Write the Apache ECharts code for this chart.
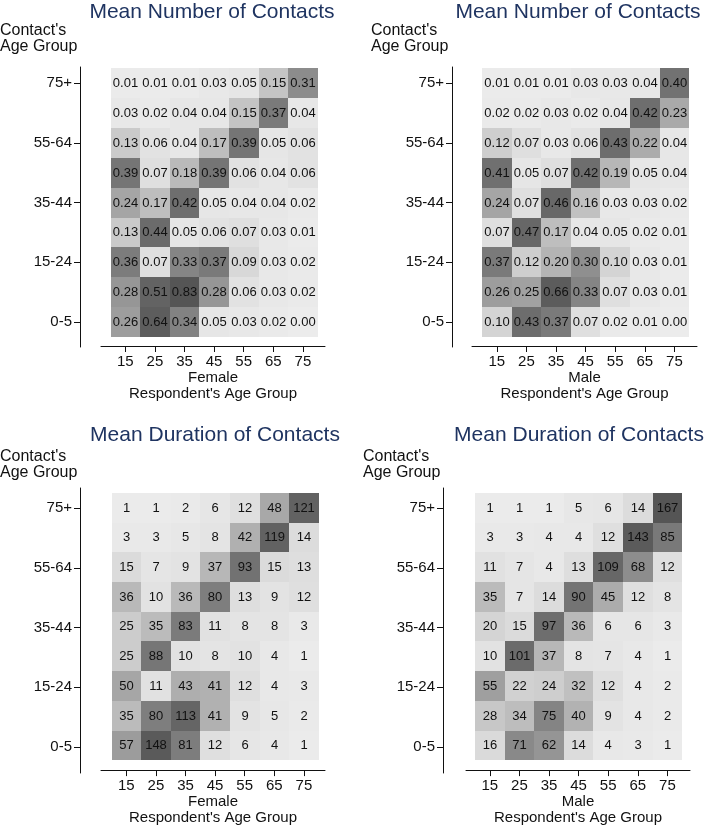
<!DOCTYPE html>
<html><head><meta charset="utf-8">
<script src="https://cdn.jsdelivr.net/npm/echarts@6/dist/echarts.min.js"></script>
<style>html,body{margin:0;padding:0;background:#fff}#c{width:710px;height:827px}</style>
</head><body><div id="c"></div>
<script>
// ---------- data ----------
const respondentAges = [15, 25, 35, 45, 55, 65, 75];
const contactTickRows = [0, 2, 4, 6, 8];
const contactTickLabels = ['0-5', '15-24', '35-44', '55-64', '75+'];
const panelTitles = ['Mean Number of Contacts', 'Mean Number of Contacts', 'Mean Duration of Contacts', 'Mean Duration of Contacts'];
const sexLabels = ['Female', 'Male', 'Female', 'Male'];
const xAxisTitle = "Respondent's Age Group";
const yAxisTitle = "Contact's\nAge Group";

// rows listed from top (75+) to bottom (0-5), columns 15..75
const femaleNumber = [
  [0.01,0.01,0.01,0.03,0.05,0.15,0.31],
  [0.03,0.02,0.04,0.04,0.15,0.37,0.04],
  [0.13,0.06,0.04,0.17,0.39,0.05,0.06],
  [0.39,0.07,0.18,0.39,0.06,0.04,0.06],
  [0.24,0.17,0.42,0.05,0.04,0.04,0.02],
  [0.13,0.44,0.05,0.06,0.07,0.03,0.01],
  [0.36,0.07,0.33,0.37,0.09,0.03,0.02],
  [0.28,0.51,0.83,0.28,0.06,0.03,0.02],
  [0.26,0.64,0.34,0.05,0.03,0.02,0.00]
];
const maleNumber = [
  [0.01,0.01,0.01,0.03,0.03,0.04,0.40],
  [0.02,0.02,0.03,0.02,0.04,0.42,0.23],
  [0.12,0.07,0.03,0.06,0.43,0.22,0.04],
  [0.41,0.05,0.07,0.42,0.19,0.05,0.04],
  [0.24,0.07,0.46,0.16,0.03,0.03,0.02],
  [0.07,0.47,0.17,0.04,0.05,0.02,0.01],
  [0.37,0.12,0.20,0.30,0.10,0.03,0.01],
  [0.26,0.25,0.66,0.33,0.07,0.03,0.01],
  [0.10,0.43,0.37,0.07,0.02,0.01,0.00]
];
const femaleDuration = [
  [1,1,2,6,12,48,121],
  [3,3,5,8,42,119,14],
  [15,7,9,37,93,15,13],
  [36,10,36,80,13,9,12],
  [25,35,83,11,8,8,3],
  [25,88,10,8,10,4,1],
  [50,11,43,41,12,4,3],
  [35,80,113,41,9,5,2],
  [57,148,81,12,6,4,1]
];
const maleDuration = [
  [1,1,1,5,6,14,167],
  [3,3,4,4,12,143,85],
  [11,7,4,13,109,68,12],
  [35,7,14,90,45,12,8],
  [20,15,97,36,6,6,3],
  [10,101,37,8,7,4,1],
  [55,22,24,32,12,4,2],
  [28,34,75,40,9,4,2],
  [16,71,62,14,4,3,1]
];

// ---------- styles / layout ----------
const FONT = '"Liberation Sans", Arial, Helvetica, sans-serif';
const TITLE_COLOR = '#1f3461';
const grayHex = l => { const h = Math.round(l).toString(16).padStart(2, '0'); return '#' + h + h + h; };
const numberGrays = [236,230,212,196,180,161,143,127,114,105,100,97,95,92,90,88,86,84].map(grayHex);
const durationGrays = [236,226,212,196,178,166,152,138,126,116,108,102,98,95,92,89,86,84].map(grayHex);

const colW = 29.6, rowH = 29.9;
const panels = [
  {values: femaleNumber,   dec: 2, yAxisX: 80,  cellsLeft: 110.5, cellsTop: 68,  xLineLeft: 101, xLineRight: 325, xLineY: 346, yLineTop: 67,  yLineBottom: 347, titleX: 212, titleY: 12,  ctxX: 0,   ctxY: 39},
  {values: maleNumber,     dec: 2, yAxisX: 452, cellsLeft: 482,   cellsTop: 68,  xLineLeft: 472, xLineRight: 697, xLineY: 346, yLineTop: 67,  yLineBottom: 347, titleX: 578, titleY: 12,  ctxX: 371, ctxY: 39},
  {values: femaleDuration, dec: 0, yAxisX: 80,  cellsLeft: 111.5, cellsTop: 493, xLineLeft: 101, xLineRight: 325, xLineY: 772, yLineTop: 488, yLineBottom: 773, titleX: 215, titleY: 435, ctxX: 0,   ctxY: 465},
  {values: maleDuration,   dec: 0, yAxisX: 443, cellsLeft: 475,   cellsTop: 493, xLineLeft: 466, xLineRight: 690, xLineY: 772, yLineTop: 488, yLineBottom: 773, titleX: 579, titleY: 435, ctxX: 363, ctxY: 465}
];

const grid = [], xAxis = [], yAxis = [], series = [], graphic = [];
const axisLineStyle = {show: true, onZero: false, lineStyle: {color: '#111', width: 1}};

panels.forEach((p, i) => {
  const pxPerUnit = colW / 10;
  const gA = 2 * i, gB = 2 * i + 1;
  const wA = p.xLineRight - p.xLineLeft, hA = p.xLineY - p.cellsTop;
  const xmin = 10 - (p.cellsLeft - p.xLineLeft) / pxPerUnit;
  grid.push({left: p.xLineLeft, top: p.cellsTop, width: wA, height: hA});
  xAxis.push({
    gridIndex: gA, type: 'value', min: xmin, max: xmin + wA / pxPerUnit,
    axisLine: axisLineStyle,
    axisTick: {show: true, inside: false, length: 6, customValues: respondentAges, lineStyle: {color: '#111'}},
    axisLabel: {show: true, customValues: respondentAges, fontSize: 15, fontFamily: FONT, color: '#111', margin: 8},
    splitLine: {show: false},
    name: sexLabels[i] + '\n' + xAxisTitle, nameLocation: 'middle', nameGap: 23,
    nameTextStyle: {fontSize: 15, fontFamily: FONT, color: '#111', lineHeight: 16, verticalAlign: 'top'}
  });
  yAxis.push({gridIndex: gA, type: 'value', max: 8.5, min: 8.5 - hA / rowH, show: false});

  grid.push({left: p.yAxisX, top: p.yLineTop, width: 20, height: p.yLineBottom - p.yLineTop});
  xAxis.push({gridIndex: gB, type: 'value', min: 0, max: 1, show: false});
  yAxis.push({
    gridIndex: gB, type: 'value',
    max: 8.5 + (p.cellsTop - p.yLineTop) / rowH,
    min: 8.5 - (p.yLineBottom - p.cellsTop) / rowH,
    axisLine: axisLineStyle,
    axisTick: {show: true, inside: false, length: 6, customValues: contactTickRows, lineStyle: {color: '#111'}},
    axisLabel: {show: true, customValues: contactTickRows, fontSize: 15, fontFamily: FONT, color: '#111', margin: 8,
      formatter: v => { const k = contactTickRows.indexOf(Math.round(v)); return k >= 0 ? contactTickLabels[k] : ''; }},
    splitLine: {show: false}
  });

  const data = [];
  p.values.forEach((row, r) => row.forEach((v, c) => data.push([respondentAges[c], 8 - r, v])));
  const dec = p.dec;
  series.push({
    type: 'custom', xAxisIndex: gA, yAxisIndex: gA, data, encode: {x: 0, y: 1},
    renderItem: (params, api) => {
      const x = api.value(0), y = api.value(1), v = api.value(2);
      const a = api.coord([x - 5, y + 0.5]), b = api.coord([x + 5, y - 0.5]);
      const x0 = Math.round(a[0]), y0 = Math.round(a[1]), x1 = Math.round(b[0]), y1 = Math.round(b[1]);
      return {
        type: 'rect',
        shape: {x: x0, y: y0, width: x1 - x0, height: y1 - y0},
        style: {fill: api.visual('color')},
        textContent: {style: {text: v.toFixed(dec), fill: '#111', fontSize: 13, fontFamily: FONT}},
        textConfig: {position: 'inside'}
      };
    }
  });

  graphic.push({type: 'text', x: p.titleX, y: p.titleY,
    style: {text: panelTitles[i], fontSize: 21, fontFamily: FONT, fill: TITLE_COLOR, align: 'center', verticalAlign: 'middle', textAlign: 'center', textVerticalAlign: 'middle'}});
  graphic.push({type: 'text', x: p.ctxX, y: p.ctxY,
    style: {text: yAxisTitle, fontSize: 16, fontFamily: FONT, fill: '#111', lineHeight: 16, align: 'left', verticalAlign: 'middle', textAlign: 'left', textVerticalAlign: 'middle'}});
});

const chart = echarts.init(document.getElementById('c'), null, {renderer: 'canvas'});
chart.setOption({
  animation: false,
  backgroundColor: '#fff',
  grid, xAxis, yAxis, series, graphic,
  visualMap: [
    {type: 'continuous', show: false, seriesIndex: [0, 1], dimension: 2, min: 0, max: 0.85, inRange: {color: numberGrays}},
    {type: 'continuous', show: false, seriesIndex: [2, 3], dimension: 2, min: 0, max: 170, inRange: {color: durationGrays}}
  ]
});
</script></body></html>
